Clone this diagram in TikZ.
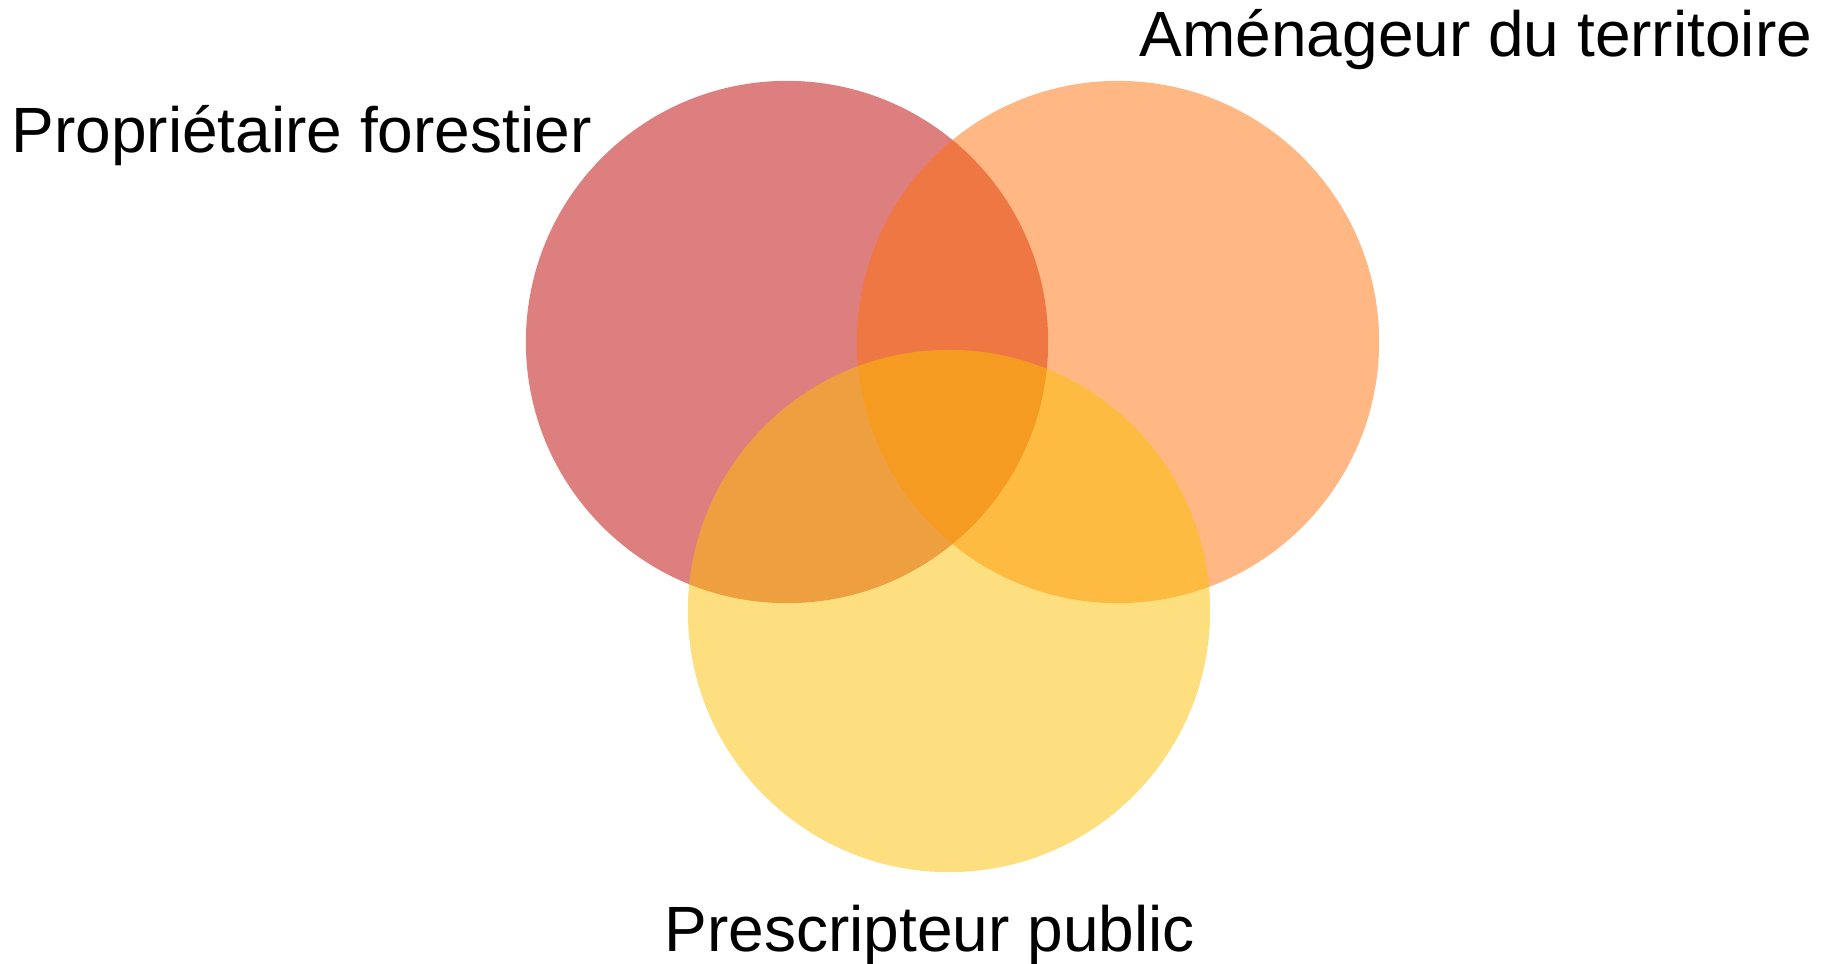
\documentclass[tikz,border=0pt]{standalone}
\usepackage{fontspec}
\setmainfont{Liberation Sans}
\usepackage{tikz}

\definecolor{propcol}{RGB}{190,0,0}
\definecolor{amencol}{RGB}{255,112,10}
\definecolor{prescol}{RGB}{254,192,2}

\begin{document}
\begin{tikzpicture}[x=0.01cm, y=-0.01cm,
    lbl/.style={anchor=base west, inner sep=0pt, font=\fontsize{18.2}{22}\selectfont}]
                \useasboundingbox (0,0) rectangle (1831,963);

                % Circles
                \fill[propcol, opacity=0.5] (787,342) circle (2.61cm);
                \fill[amencol, opacity=0.5] (1118,342) circle (2.61cm);
                \fill[prescol, opacity=0.5] (949,611) circle (2.61cm);

                % Labels
                \node[lbl] (prop) at (11,152) {Propriétaire forestier};
                \node[lbl] (amen) at (1139,56) {Aménageur du territoire};
                \node[lbl] (pres) at (664,951) {Prescripteur public};
            \end{tikzpicture}
\end{document}
